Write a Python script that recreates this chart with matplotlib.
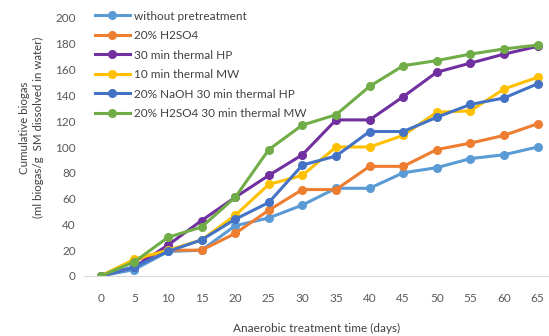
import numpy as np
import matplotlib.pyplot as plt

# anaerobic treatment time (days)
days = [0, 5, 10, 15, 20, 25, 30, 35, 40, 45, 50, 55, 60, 65]

# cumulative biogas per treatment
without_pre = [0, 5, 19, 20, 39, 45, 55, 68, 68, 80, 84, 91, 94, 100]
h2so4 = [0, 12, 20, 20, 33, 51, 67, 67, 85, 85, 98, 103, 109, 118]
thermal_hp = [0, 7, 24, 43, 61, 78, 94, 121, 121, 139, 158, 165, 172, 178]
thermal_mw = [0, 13, 20, 28, 47, 71, 78, 100, 100, 109, 127, 128, 145, 154]
naoh_hp = [0, 7, 19, 28, 44, 57, 86, 93, 112, 112, 123, 133, 138, 149]
h2so4_mw = [0, 11, 30, 38, 61, 98, 117, 125, 147, 163, 167, 172, 176, 179]

series = [
    ('without pretreatment', without_pre, '#5B9BD5'),
    ('20% H2SO4', h2so4, '#ED7D31'),
    ('30 min thermal HP', thermal_hp, '#7030A0'),
    ('10 min thermal MW', thermal_mw, '#FFC000'),
    ('20% NaOH 30 min thermal HP', naoh_hp, '#4472C4'),
    ('20% H2SO4 30 min thermal MW', h2so4_mw, '#70AD47'),
]

plt.rcParams['font.family'] = ['Lato', 'DejaVu Sans']

fig = plt.figure(figsize=(5.49, 3.36), dpi=100)
ax = fig.add_axes([84/549, 60/336, 465/549, 258/336])

for name, vals, col in series:
    ax.plot(days, vals, color=col, lw=2.2, marker='o', ms=5.5, label=name)

ax.set_xlim(-2.5, -2.5 + 465/6.72)
ax.set_ylim(0, 200)
ax.set_xticks(days)
ax.set_yticks(np.arange(0, 201, 20))
ax.tick_params(length=0, labelsize=8.5, colors='#595959')
ax.tick_params(axis='x', pad=12)
ax.tick_params(axis='y', pad=6)

for s in ['top', 'right', 'left']:
    ax.spines[s].set_visible(False)
ax.spines['bottom'].set_color('#D9D9D9')

ax.set_xlabel('Anaerobic treatment time (days)', fontsize=8.5, color='#404040', labelpad=14)
fig.text(0.058, 0.62, 'Cumulative biogas\n(ml biogas/g  SM dissolved in water)',
         rotation=90, ha='center', va='center', fontsize=8.3, color='#404040',
         linespacing=1.35)

leg = ax.legend(loc='upper left', bbox_to_anchor=(0.0, 1.07), frameon=False,
                fontsize=8.5, handlelength=3.0, handletextpad=0.3,
                labelspacing=0.72, labelcolor='#404040')

fig.savefig('out.png', dpi=100)
